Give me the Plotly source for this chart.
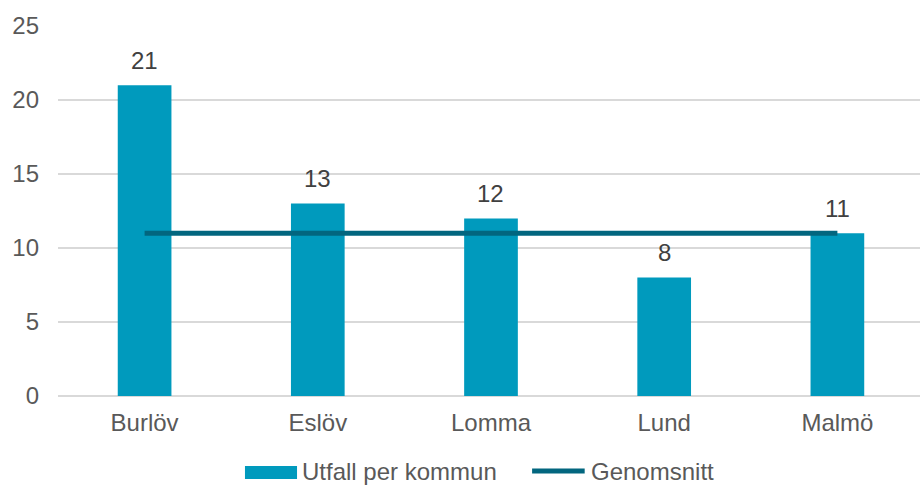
import plotly.graph_objects as go

# Kommuner och utfall
kommuner = ["Burlöv", "Eslöv", "Lomma", "Lund", "Malmö"]
utfall = [21, 13, 12, 8, 11]
genomsnitt = [11, 11, 11, 11, 11]
y_ticks = [0, 5, 10, 15, 20, 25]
serie_namn = ["Utfall per kommun", "Genomsnitt"]

BAR_COLOR = "#009ABD"
LINE_COLOR = "#02667F"
TEXT_COLOR = "#595959"
LABEL_COLOR = "#404040"
FONT = "Liberation Sans, Arial, sans-serif"
FS = 24

fig = go.Figure()

fig.add_trace(go.Bar(
    x=kommuner,
    y=utfall,
    name=serie_namn[0],
    marker=dict(color=BAR_COLOR, line=dict(width=0)),
    width=0.31,
    showlegend=False,
))

fig.add_trace(go.Scatter(
    x=kommuner,
    y=genomsnitt,
    name=serie_namn[1],
    mode="lines",
    line=dict(color=LINE_COLOR, width=5),
    showlegend=False,
))

# Värdeetiketter ovanför staplarna
for k, v in zip(kommuner, utfall):
    fig.add_annotation(
        x=k, y=v, text=str(v), showarrow=False,
        yanchor="middle", yshift=25,
        font=dict(family=FONT, size=FS, color=LABEL_COLOR),
    )

# Teckenförklaring under diagrammet (pappers-koordinater)
fig.add_shape(type="rect", xref="paper", yref="paper",
              x0=0.2169, x1=0.2773, y0=-0.2243, y1=-0.1892,
              fillcolor=BAR_COLOR, line=dict(width=0))
fig.add_annotation(xref="paper", yref="paper", x=0.2810, y=-0.2054,
                   xanchor="left", yanchor="middle", showarrow=False,
                   text=serie_namn[0],
                   font=dict(family=FONT, size=FS, color=TEXT_COLOR))
fig.add_shape(type="line", xref="paper", yref="paper",
              x0=0.5500, x1=0.6110, y0=-0.2027, y1=-0.2027,
              line=dict(color=LINE_COLOR, width=5))
fig.add_annotation(xref="paper", yref="paper", x=0.6160, y=-0.2054,
                   xanchor="left", yanchor="middle", showarrow=False,
                   text=serie_namn[1],
                   font=dict(family=FONT, size=FS, color=TEXT_COLOR))

fig.update_layout(
    width=920,
    height=486,
    margin=dict(l=58, r=0, t=26, b=90, autoexpand=False),
    paper_bgcolor="white",
    plot_bgcolor="white",
    font=dict(family=FONT, size=FS, color=TEXT_COLOR),
    showlegend=False,
)

fig.update_xaxes(
    range=[-0.5, 4.477],
    showgrid=False,
    showline=False,
    ticks="",
    ticklabelstandoff=10,
    tickfont=dict(family=FONT, size=FS, color=TEXT_COLOR),
)

fig.update_yaxes(
    range=[0, 25],
    tickvals=y_ticks,
    showgrid=True,
    gridcolor="#D9D9D9",
    gridwidth=1.5,
    zeroline=True,
    zerolinecolor="#D9D9D9",
    zerolinewidth=1.5,
    showline=False,
    ticks="",
    ticklabelstandoff=18,
    tickfont=dict(family=FONT, size=FS, color=TEXT_COLOR),
)

fig.write_html("out.html")
